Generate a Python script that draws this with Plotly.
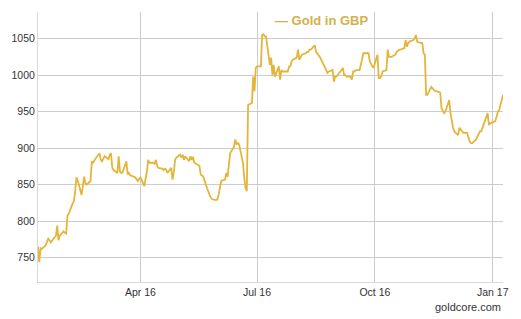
import plotly.graph_objects as go

dates = [
 "2016-01-12","2016-01-13","2016-01-14","2016-01-15","2016-01-18","2016-01-19","2016-01-20","2016-01-21","2016-01-22",
 "2016-01-25","2016-01-26","2016-01-27","2016-01-28","2016-01-29","2016-02-01","2016-02-02","2016-02-03","2016-02-04",
 "2016-02-05","2016-02-08","2016-02-09","2016-02-10","2016-02-11","2016-02-12","2016-02-15","2016-02-16","2016-02-17",
 "2016-02-18","2016-02-19","2016-02-22","2016-02-23","2016-02-24","2016-02-25","2016-02-26","2016-02-29","2016-03-01",
 "2016-03-02","2016-03-03","2016-03-04","2016-03-07","2016-03-08","2016-03-09","2016-03-10","2016-03-11","2016-03-14",
 "2016-03-15","2016-03-16","2016-03-17","2016-03-18","2016-03-21","2016-03-22","2016-03-23","2016-03-24","2016-03-28",
 "2016-03-29","2016-03-30","2016-03-31","2016-04-01","2016-04-04","2016-04-05","2016-04-06","2016-04-07","2016-04-08",
 "2016-04-11","2016-04-12","2016-04-13","2016-04-14","2016-04-15","2016-04-18","2016-04-19","2016-04-20","2016-04-21",
 "2016-04-22","2016-04-25","2016-04-26","2016-04-27","2016-04-28","2016-04-29","2016-05-02","2016-05-03","2016-05-04",
 "2016-05-05","2016-05-06","2016-05-09","2016-05-10","2016-05-11","2016-05-12","2016-05-13","2016-05-16","2016-05-17",
 "2016-05-18","2016-05-19","2016-05-20","2016-05-23","2016-05-24","2016-05-25","2016-05-26","2016-05-27","2016-05-30",
 "2016-05-31","2016-06-01","2016-06-02","2016-06-03","2016-06-06","2016-06-07","2016-06-08","2016-06-09","2016-06-10",
 "2016-06-13","2016-06-14","2016-06-15","2016-06-16","2016-06-17","2016-06-20","2016-06-21","2016-06-22","2016-06-23",
 "2016-06-24","2016-06-27","2016-06-28","2016-06-29","2016-06-30","2016-07-01","2016-07-04","2016-07-05","2016-07-06",
 "2016-07-07","2016-07-08","2016-07-11","2016-07-12","2016-07-13","2016-07-14","2016-07-15","2016-07-18","2016-07-19",
 "2016-07-20","2016-07-21","2016-07-22","2016-07-25","2016-07-26","2016-07-27","2016-07-28","2016-07-29","2016-08-01",
 "2016-08-02","2016-08-03","2016-08-04","2016-08-05","2016-08-08","2016-08-09","2016-08-10","2016-08-11","2016-08-12",
 "2016-08-15","2016-08-16","2016-08-17","2016-08-18","2016-08-19","2016-08-22","2016-08-23","2016-08-24","2016-08-25",
 "2016-08-26","2016-08-29","2016-08-30","2016-08-31","2016-09-01","2016-09-02","2016-09-05","2016-09-06","2016-09-07",
 "2016-09-08","2016-09-09","2016-09-12","2016-09-13","2016-09-14","2016-09-15","2016-09-16","2016-09-19","2016-09-20",
 "2016-09-21","2016-09-22","2016-09-23","2016-09-26","2016-09-27","2016-09-28","2016-09-29","2016-09-30","2016-10-03",
 "2016-10-04","2016-10-05","2016-10-06","2016-10-07","2016-10-10","2016-10-11","2016-10-12","2016-10-13","2016-10-14",
 "2016-10-17","2016-10-18","2016-10-19","2016-10-20","2016-10-21","2016-10-24","2016-10-25","2016-10-26","2016-10-27",
 "2016-10-28","2016-10-31","2016-11-01","2016-11-02","2016-11-03","2016-11-04","2016-11-07","2016-11-08","2016-11-09",
 "2016-11-10","2016-11-11","2016-11-14","2016-11-15","2016-11-16","2016-11-17","2016-11-18","2016-11-21","2016-11-22",
 "2016-11-23","2016-11-24","2016-11-25","2016-11-28","2016-11-29","2016-11-30","2016-12-01","2016-12-02","2016-12-05",
 "2016-12-06","2016-12-07","2016-12-08","2016-12-09","2016-12-12","2016-12-13","2016-12-14","2016-12-15","2016-12-16",
 "2016-12-19","2016-12-20","2016-12-21","2016-12-22","2016-12-23","2016-12-28","2016-12-29","2016-12-30","2017-01-03",
 "2017-01-04","2017-01-05","2017-01-06","2017-01-09",
]

gold_gbp = [
 765,744,763,762,767,771,776,774,771,
 778,780,794,774,780,786,784,783,808,
 810,824,827,840,860,856,836,848,861,
 852,850,855,882,880,884,886,893,884,
 882,886,889,885,891,893,873,870,866,
 889,868,866,867,882,864,866,863,860,
 858,855,858,860,848,857,868,884,880,
 880,878,884,876,873,872,870,872,871,
 866,873,857,866,884,887,891,887,891,
 884,889,882,889,884,888,880,877,876,
 864,863,861,845,839,836,832,830,829,
 830,836,846,855,857,866,861,878,893,
 902,912,905,907,905,880,860,845,841,
 959,962,998,978,1010,1012,1012,1055,1056,
 1053,1053,1014,1024,1000,1014,998,1012,994,
 1007,1005,1005,1005,1012,1012,1019,1021,1024,
 1035,1021,1025,1028,1030,1032,1032,1035,1035,
 1041,1032,1030,1028,1025,1014,1010,1005,1003,
 1005,1007,991,998,998,1000,1007,1010,1000,
 1000,998,998,994,1005,1005,1007,1007,1014,
 1021,1030,1030,1030,1019,1014,1012,1010,1028,
 996,996,998,1005,1007,1035,1025,1025,1025,
 1028,1032,1033,1035,1035,1037,1048,1039,1044,
 1046,1048,1050,1055,1046,1045,1044,1030,1028,
 973,973,984,982,980,978,978,976,955,
 950,948,950,966,948,937,928,923,918,
 928,925,923,921,921,914,909,907,907,
 912,916,921,923,923,948,932,934,937,
 945,950,952,973,
]

y_ticks = [750, 800, 850, 900, 950, 1000, 1050]
x_tickvals = ["2016-04-01", "2016-07-01", "2016-10-01", "2017-01-01"]
x_ticktext = ["Apr 16", "Jul 16", "Oct 16", "Jan 17"]
series_name = "Gold in GBP"
source_text = "goldcore.com"

LINE = "#e3b63b"
GRID = "#cccccc"
FONT = "Liberation Sans, Arial, sans-serif"

fig = go.Figure()
fig.add_trace(go.Scatter(
    x=dates, y=gold_gbp, mode="lines", name=series_name,
    line=dict(color=LINE, width=1.8), showlegend=False,
))

fig.update_layout(
    width=521, height=319,
    margin=dict(l=33, r=15, t=12, b=37),
    paper_bgcolor="white", plot_bgcolor="white",
    font=dict(family=FONT, size=10, color="#333333"),
    xaxis=dict(
        range=["2016-01-12", "2017-01-09"],
        tickvals=x_tickvals, ticktext=x_ticktext,
        showgrid=True, gridcolor=GRID, gridwidth=1,
        showline=True, linecolor="#d9d9d9", linewidth=1,
        ticks="", zeroline=False,
        tickfont=dict(size=10.5, color="#333333"),
    ),
    yaxis=dict(
        range=[716.7, 1086.5],
        tickvals=y_ticks,
        showgrid=True, gridcolor=GRID, gridwidth=1,
        showline=True, linecolor="#d9d9d9", linewidth=1,
        ticks="", zeroline=False,
        tickfont=dict(size=10.5, color="#333333"),
    ),
    annotations=[
        dict(text="— " + series_name, xref="paper", yref="paper",
             x=0.5047, y=0.9685, xanchor="left", yanchor="middle",
             showarrow=False,
             font=dict(family=FONT, size=13, color="#d6b04a", weight="bold")),
        dict(text=source_text, xref="paper", yref="paper",
             x=1.0, y=-0.093, xanchor="right", yanchor="middle",
             showarrow=False,
             font=dict(family=FONT, size=11, color="#333333")),
    ],
)

fig.write_html("out.html")
